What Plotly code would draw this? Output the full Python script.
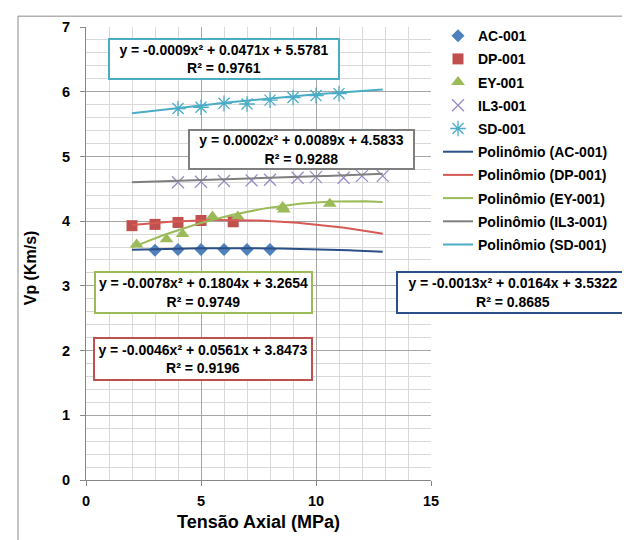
import numpy as np
import plotly.graph_objects as go

# ---------------- data ----------------
ac_x = [3, 4, 5, 6, 7, 8]
ac_y = [3.55, 3.56, 3.56, 3.56, 3.56, 3.56]

dp_x = [2.0, 3.0, 4.0, 5.0, 6.4]
dp_y = [3.93, 3.95, 3.98, 4.01, 3.99]

ey_x = [2.2, 3.5, 4.2, 5.5, 6.6, 8.55, 8.6, 10.6]
ey_y = [3.64, 3.72, 3.80, 4.07, 4.07, 4.22, 4.18, 4.27]

il3_x = [4.0, 5.0, 6.0, 7.2, 8.0, 9.2, 10.0, 11.2, 12.0, 12.9]
il3_y = [4.60, 4.61, 4.62, 4.63, 4.64, 4.67, 4.68, 4.67, 4.70, 4.70]

sd_x = [4.0, 5.0, 6.0, 7.0, 8.0, 9.0, 10.0, 11.0]
sd_y = [5.74, 5.76, 5.82, 5.81, 5.87, 5.91, 5.94, 5.97]

# polynomial trendline coefficients (a, b, c) for a*x^2 + b*x + c
ac_coef = [-0.0013, 0.0164, 3.5322]
dp_coef = [-0.0046, 0.0561, 3.8473]
ey_coef = [-0.0078, 0.1804, 3.2654]
il3_coef = [0.0002, 0.0089, 4.5833]
sd_coef = [-0.0009, 0.0471, 5.5781]
trend_range = [2.0, 12.9]

eq_labels = {
    "SD": "y = -0.0009x² + 0.0471x + 5.5781<br>R² = 0.9761",
    "IL3": "y = 0.0002x² + 0.0089x + 4.5833<br>R² = 0.9288",
    "EY": "y = -0.0078x² + 0.1804x + 3.2654<br>R² = 0.9749",
    "AC": "y = -0.0013x² + 0.0164x + 3.5322<br>R² = 0.8685",
    "DP": "y = -0.0046x² + 0.0561x + 3.8473<br>R² = 0.9196",
}

FONT = "Liberation Sans"
OFF = 8  # page body margin

fig = go.Figure()

series = [
    ("AC-001", ac_x, ac_y, dict(symbol="diamond", size=10, color="#4F81BD")),
    ("DP-001", dp_x, dp_y, dict(symbol="square", size=11, color="#C0504D")),
    ("EY-001", ey_x, ey_y, dict(symbol="triangle-up", size=12, color="#9BBB59")),
    ("IL3-001", il3_x, il3_y, dict(symbol="x-thin-open", size=12, color="#9A8BC4",
                                    line=dict(width=1.3, color="#9A8BC4"))),
    ("SD-001", sd_x, sd_y, dict(symbol="asterisk-open", size=13, color="#4BACC6",
                                  line=dict(width=1.3, color="#4BACC6"))),
]
for i, (name, xs, ys, mk) in enumerate(series):
    fig.add_trace(go.Scatter(x=xs, y=ys, mode="markers", name=name, marker=mk,
                             legendgroup=f"g{i}"))

trends = [
    ("Polinômio (AC-001)", ac_coef, "#2B4F86"),
    ("Polinômio (DP-001)", dp_coef, "#D65A55"),
    ("Polinômio (EY-001)", ey_coef, "#9BBB59"),
    ("Polinômio (IL3-001)", il3_coef, "#7F7F7F"),
    ("Polinômio (SD-001)", sd_coef, "#4BACC6"),
]
tx = np.linspace(trend_range[0], trend_range[1], 60)
for j, (name, coef, col) in enumerate(trends):
    ty = np.polyval(coef, tx)
    fig.add_trace(go.Scatter(x=tx, y=ty, mode="lines", name=name,
                             line=dict(color=col, width=2), legendgroup=f"t{j}"))

# plot area in page pixels
L, R, T, B = 86, 431, 20, 480
W, H = R - L, B - T


def px2paper(px, py):
    return (px - L) / W, (B - py) / H


boxes = [
    ("SD", 224, 52, 228, 38, "#4BACC6"),
    ("IL3", 301, 144, 223, 37, "#7F7F7F"),
    ("EY", 203, 290, 215, 39, "#9BBB59"),
    ("AC", 513, 290, 230, 39, "#2B4F86"),
    ("DP", 203, 357, 216, 40, "#C0504D"),
]
for key, cx, cy, bw, bh, col in boxes:
    xp, yp = px2paper(cx, cy)
    fig.add_annotation(xref="paper", yref="paper", x=xp, y=yp, text=eq_labels[key],
                       showarrow=False, xanchor="center", yanchor="middle",
                       width=bw, height=bh, bgcolor="white", bordercolor=col,
                       borderwidth=2, borderpad=0,
                       font=dict(family=FONT, size=14, color="black", weight="bold"))

# y-axis title
tx_, ty_ = px2paper(30, 265)
fig.add_annotation(xref="paper", yref="paper", x=tx_, y=ty_, text="Vp (Km/s)",
                   textangle=-90, showarrow=False, xanchor="center", yanchor="middle",
                   font=dict(family=FONT, size=16, color="black", weight="bold"))

# outer chart frame
x0, y1 = px2paper(18, 9)
x1, y0 = px2paper(628, 556)
fig.add_shape(type="rect", xref="paper", yref="paper", x0=x0, x1=x1, y0=y0, y1=y1,
              line=dict(color="#8A8A8A", width=1), layer="below")

lx, ly = px2paper(438, 13)
fig.update_layout(
    width=630, height=540,
    margin=dict(l=L - OFF, r=630 - (R - OFF), t=T - OFF, b=540 - (B - OFF)),
    paper_bgcolor="white", plot_bgcolor="white",
    font=dict(family=FONT, size=13, color="black"),
    showlegend=True,
    legend=dict(x=lx, y=ly, xanchor="left", yanchor="top", traceorder="grouped",
                tracegroupgap=2, bgcolor="rgba(0,0,0,0)",
                font=dict(family=FONT, size=14, color="black", weight="bold")),
    xaxis=dict(range=[0, 15], dtick=5, tick0=0, showgrid=True, gridcolor="#A6A6A6",
               gridwidth=1, showline=True, linecolor="#868686", linewidth=1,
               ticks="outside", ticklen=5, tickcolor="#868686", zeroline=False,
               minor=dict(dtick=1, showgrid=True, gridcolor="#D9D9D9", gridwidth=1),
               tickfont=dict(family=FONT, size=14.5, weight="bold"),
               ticklabelstandoff=3,
               title=dict(text="Tensão Axial (MPa)", standoff=6,
                          font=dict(family=FONT, size=18, weight="bold"))),
    yaxis=dict(range=[0, 7], dtick=1, tick0=0, showgrid=True, gridcolor="#A6A6A6",
               gridwidth=1, showline=True, linecolor="#868686", linewidth=1,
               ticks="outside", ticklen=5, tickcolor="#868686", zeroline=False,
               minor=dict(dtick=0.2, showgrid=True, gridcolor="#D9D9D9", gridwidth=1),
               tickfont=dict(family=FONT, size=14.5, weight="bold"),
               ticklabelstandoff=7),
)

fig.write_html("out.html")
